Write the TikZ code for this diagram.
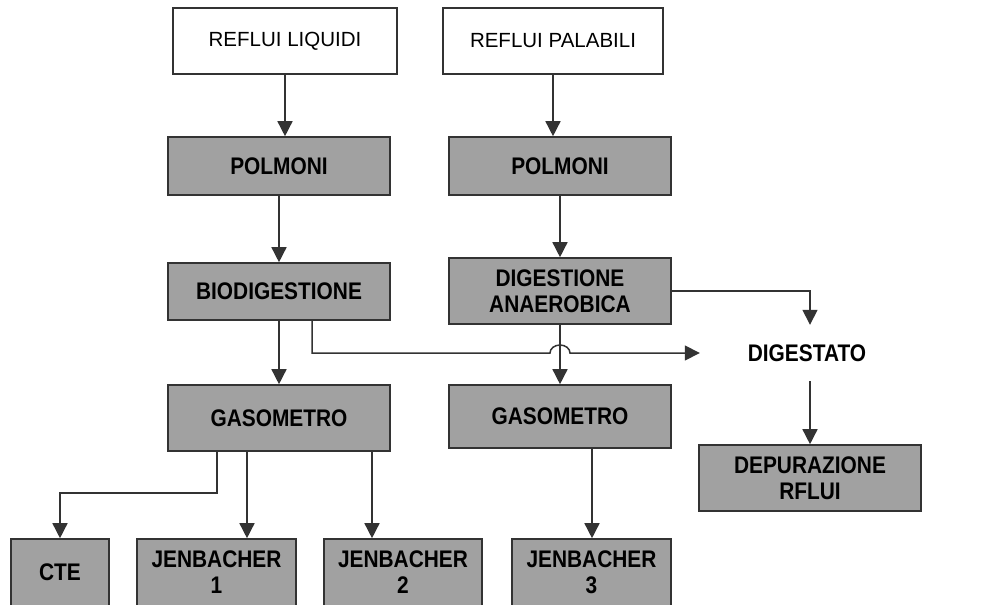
\documentclass[tikz,border=0pt]{standalone}
\usepackage{fontspec}
\setmainfont{Liberation Sans}
\newfontfamily\boxfont[FakeStretch=0.87]{Liberation Sans Bold}
\usepackage{xcolor}
\definecolor{boxgrey}{rgb}{0.63,0.63,0.63}
\definecolor{edgegrey}{rgb}{0.2,0.2,0.2}
\usetikzlibrary{arrows.meta,positioning}
\tikzset{
	wbox/.style={draw=edgegrey,line width=1.4pt,fill=white,inner sep=0pt,font=\fontsize{20.5}{24}\selectfont},
	gbox/.style={draw=edgegrey,line width=1.6pt,fill=boxgrey,inner sep=0pt,align=center,font=\fontsize{24}{26}\boxfont},
	flow/.style={draw=edgegrey,line width=1.5pt,-{Triangle[width=15pt,length=15pt]}},
}

\begin{document}
\begin{tikzpicture}[x=1pt,y=-1pt]
	\useasboundingbox (0,0) rectangle (1007,605);
	
	\node[wbox,minimum width=224pt,minimum height=66pt] (rliq) at (285,41) {REFLUI LIQUIDI};
	\node[wbox,minimum width=220pt,minimum height=66pt] (rpal) at (553,41) {REFLUI PALABILI};
	
	\node[gbox,minimum width=222pt,minimum height=58pt] (pol1) at (279,166) {POLMONI};
	\node[gbox,minimum width=222pt,minimum height=58pt] (pol2) at (560,166) {POLMONI};
	\node[gbox,minimum width=222pt,minimum height=57pt] (bio) at (279,291.5) {BIODIGESTIONE};
	\node[gbox,minimum width=222pt,minimum height=66pt] (dig) at (560,291) {DIGESTIONE\\ANAEROBICA};
	\node[gbox,minimum width=222pt,minimum height=66pt] (gas1) at (279,418) {GASOMETRO};
	\node[gbox,minimum width=222pt,minimum height=63pt] (gas2) at (560,416.5) {GASOMETRO};
	
	\node[font=\fontsize{24}{26}\boxfont,minimum width=214pt,minimum height=56pt] (dgt) at (807,353) {DIGESTATO};
	\node[gbox,minimum width=222pt,minimum height=66pt] (dep) at (810,478) {DEPURAZIONE\\RFLUI};
	
	\node[gbox,minimum width=98pt,minimum height=67pt] (cte) at (60,572.5) {CTE};
	\node[gbox,minimum width=159pt,minimum height=67pt] (jb1) at (216.5,572.5) {JENBACHER\\1};
	\node[gbox,minimum width=158pt,minimum height=67pt] (jb2) at (403,572.5) {JENBACHER\\2};
	\node[gbox,minimum width=159pt,minimum height=67pt] (jb3) at (591.5,572.5) {JENBACHER\\3};
	
	\draw[flow] (rliq) -- (rliq |- pol1.north);
	\draw[flow] (rpal) -- (rpal |- pol2.north);
	\draw[flow] (pol1) -- (bio);
	\draw[flow] (pol2) -- (dig);
	\draw[flow] (bio) -- (gas1);
	\draw[flow] (dig) -- (gas2);
	
	% digestato, with a hop over the gas line
	\coordinate (hop) at (dig.south |- dgt.west);
	\draw[flow] ([xshift=33pt]bio.south) |- ([xshift=-10pt]hop) arc[start angle=180,end angle=0,x radius=10pt,y radius=8pt] -- (dgt.west);
	\draw[flow] (dig.east) -| (dgt.north -| dep.north);
	\draw[flow] (dgt.south -| dep.north) -- (dep);
	
	\draw[flow] ([xshift=-62pt]gas1.south) |- ([yshift=45pt]cte.north) -- (cte);
	\draw[flow] ([xshift=-32pt]gas1.south) -- ([xshift=-32pt]gas1.south |- jb1.north);
	\draw[flow] ([xshift=93pt]gas1.south) -- ([xshift=93pt]gas1.south |- jb2.north);
	\draw[flow] ([xshift=0.5pt]gas2.south -| jb3) -- ([xshift=0.5pt]jb3.north);
\end{tikzpicture}
\end{document}
